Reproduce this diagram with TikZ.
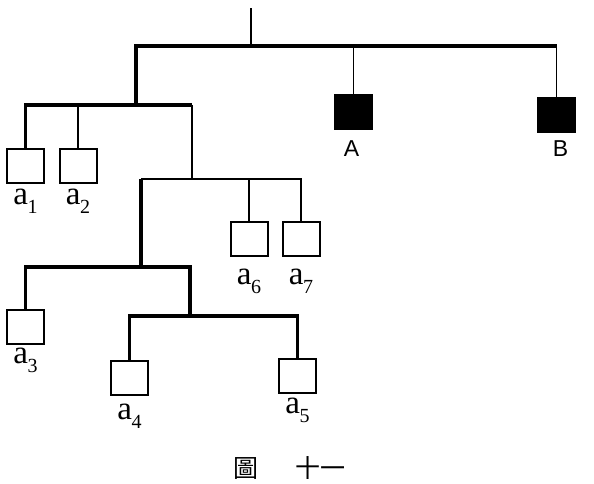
\documentclass[tikz,border=0pt]{standalone}
\usepackage{fontspec}
\setmainfont{Liberation Serif}
\newfontfamily\sansf{Liberation Sans}
\newfontfamily\cjk{Noto Sans CJK TC}
\newcommand\alab[1]{a\kern-0.5pt\raisebox{-9pt}{\fontsize{20}{20}\selectfont #1}}
\begin{document}
\begin{tikzpicture}[x=1pt,y=-1pt,
  thickl/.style={line width=3.2pt},
  thinl/.style={line width=1.7pt},
  box/.style={draw, line width=2pt, minimum width=37pt, minimum height=34pt, inner sep=0pt},
  fbox/.style={box, fill=black},
  lab/.style={font=\fontsize{33}{33}\selectfont, inner sep=0pt},
  slab/.style={font=\sansf\fontsize{23}{23}\selectfont, inner sep=0pt},
  captext/.style={font=\cjk\fontsize{25}{25}\selectfont, inner sep=0pt}]
\useasboundingbox (0,0) rectangle (594,483);
% boxes
\node[box]  (a1) at (25.5,166) {};
\node[box]  (a2) at (78,166) {};
\node[fbox] (A)  at (353.5,112) {};
\node[fbox] (B)  at (556.5,115) {};
\node[box]  (a6) at (249,239) {};
\node[box]  (a7) at (301,239) {};
\node[box]  (a3) at (25.5,326.5) {};
\node[box]  (a4) at (129.5,378) {};
\node[box]  (a5) at (297.5,376) {};
% junctions
\coordinate (root) at (251,8);
\coordinate (n0) at (251,46);
\coordinate (n1) at (136,105);
\coordinate (n2) at (192,179);
\coordinate (n3) at (141,267);
\coordinate (n4) at (190,316);
% connectors
\draw[thinl] (root) -- (n0);
\draw[thickl] (n1) -- (n1 |- n0) -- (n0 -| B);
\draw[thinl] (n0 -| A) -- (A.north);
\draw[thinl] (n0 -| B) -- (B.north);
\draw[thickl] (a1.north) -- (a1 |- n1) -- (n1 -| n2);
\draw[thinl] (n1 -| a2) -- (a2.north);
\draw[thinl] (n1 -| n2) -- (n2);
\draw[thinl] (n3 |- n2) -- (n2 -| a7) -- (a7.north);
\draw[thinl] (n2 -| a6) -- (a6.north);
\draw[thickl] (n3 |- n2) -- (n3);
\draw[thickl] (a3.north) -- (a3 |- n3) -- (n3 -| n4) -- (n4);
\draw[thickl] (a4.north) -- (a4 |- n4) -- (n4 -| a5) -- (a5.north);
% labels
\node[lab, below=5pt]  (l1) at (a1.south) {\alab{1}};
\node[lab, below=5pt]  (l2) at (a2.south) {\alab{2}};
\node[lab, below=3pt]  (l3) at (a3.south) {\alab{3}};
\node[lab, below=8pt]  (l4) at (a4.south) {\alab{4}};
\node[lab, below=4pt]  (l5) at (a5.south) {\alab{5}};
\node[lab, below=12pt] (l6) at (a6.south) {\alab{6}};
\node[lab, below=12pt] (l7) at (a7.south) {\alab{7}};
\node[slab, below=10pt, xshift=-2pt] (lA) at (A.south) {A};
\node[slab, below=7pt, xshift=4pt] (lB) at (B.south) {B};
% caption
\node[captext] (c1) at (245.5,468) {圖};
\node[captext] (c2) at (320,468) {十一};
\end{tikzpicture}
\end{document}
